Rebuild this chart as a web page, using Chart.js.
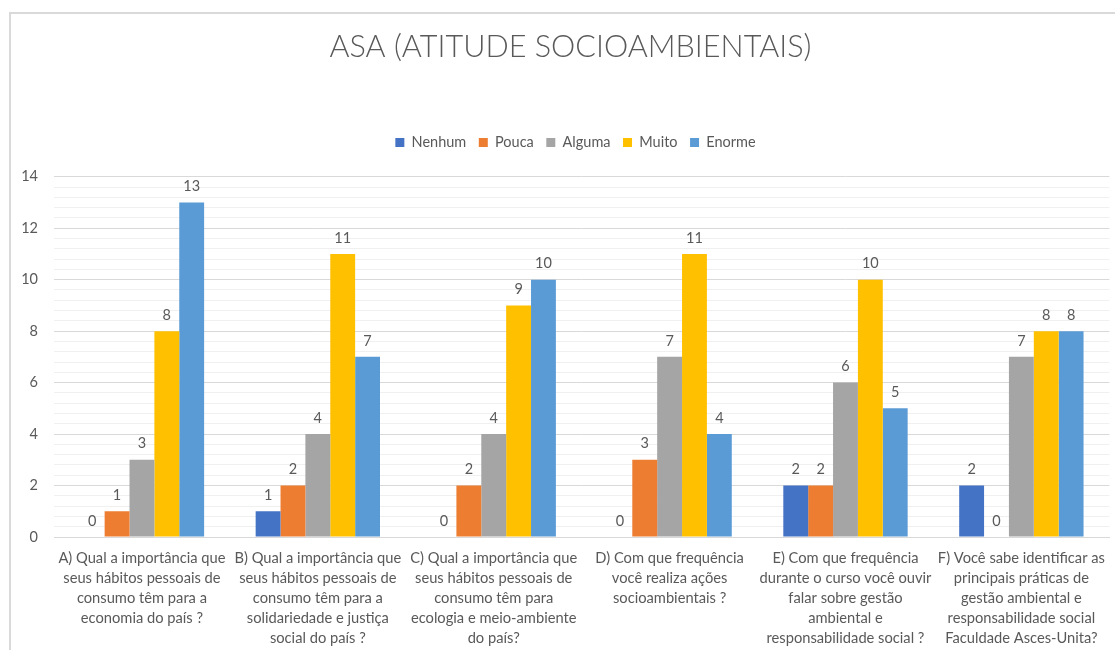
<!DOCTYPE html>
<html>
<head>
<meta charset="utf-8">
<script src="https://cdn.jsdelivr.net/npm/chart.js@4"></script>
<style>
  body { margin: 0; background: #fff; }
  canvas { display: block; }
</style>
</head>
<body>
<canvas id="asaChart" width="1116" height="650"></canvas>
<script>
var ctx = document.getElementById('asaChart');

// perguntas (eixo x), uma linha por item do array
const perguntas = [
  ['A) Qual a importância que', 'seus hábitos pessoais de', 'consumo têm para a', 'economia do país ?'],
  ['B) Qual a importância que', 'seus hábitos pessoais de', 'consumo têm para a', 'solidariedade e justiça', 'social do país ?'],
  ['C) Qual a importância que', 'seus hábitos pessoais de', 'consumo têm para', 'ecologia e meio-ambiente', 'do país?'],
  ['D) Com que frequência', 'você realiza ações', 'socioambientais ?'],
  ['E) Com que frequência', 'durante o curso você ouvir', 'falar sobre gestão', 'ambiental e', 'responsabilidade social ?'],
  ['F) Você sabe identificar as', 'principais práticas de', 'gestão ambiental e', 'responsabilidade social', 'Faculdade Asces-Unita?']
];

const nenhum = [0, 1, 0, 0, 2, 2];
const pouca  = [1, 2, 2, 3, 2, 0];
const alguma = [3, 4, 4, 7, 6, 7];
const muito  = [8, 11, 9, 11, 10, 8];
const enorme = [13, 7, 10, 4, 5, 8];

const cinza = '#595959';
const fonte = 'Lato, "Open Sans", sans-serif';

function isMajor(v) {
  return Math.abs(v / 2 - Math.round(v / 2)) < 1e-6;
}

// moldura cinza em volta do gráfico
const moldura = {
  id: 'moldura',
  beforeDraw(chart) {
    const c = chart.ctx;
    c.save();
    c.strokeStyle = '#d9d9d9';
    c.lineWidth = 2;
    c.beginPath();
    c.moveTo(10, 650);
    c.lineTo(10, 13);
    c.lineTo(1115, 13);
    c.stroke();
    c.restore();
  }
};

// legenda: mais espaço embaixo; título e legenda centralizados sobre a área de plotagem
const ajusteTopo = {
  id: 'ajusteTopo',
  afterInit(chart) {
    const fitOriginal = chart.legend.fit;
    chart.legend.fit = function () {
      fitOriginal.call(this);
      this.height += 17;
    };
  },
  afterLayout(chart) {
    chart.legend.left += 18;
    chart.legend.right += 18;
    chart.titleBlock.left += 13;
    chart.titleBlock.right += 13;
  }
};

// valores em cima das barras
const rotulos = {
  id: 'rotulos',
  afterDatasetsDraw(chart) {
    const c = chart.ctx;
    c.save();
    c.fillStyle = cinza;
    c.font = '14.5px ' + fonte;
    c.textAlign = 'center';
    c.textBaseline = 'middle';
    chart.data.datasets.forEach((ds, i) => {
      chart.getDatasetMeta(i).data.forEach((bar, j) => {
        c.fillText(ds.data[j], bar.x, bar.y - 16);
      });
    });
    c.restore();
  }
};

var grafico = new Chart(ctx, {
  type: 'bar',
  data: {
    labels: perguntas,
    datasets: [
      { label: 'Nenhum', data: nenhum, backgroundColor: '#4472C4' },
      { label: 'Pouca', data: pouca, backgroundColor: '#ED7D31' },
      { label: 'Alguma', data: alguma, backgroundColor: '#A5A5A5' },
      { label: 'Muito', data: muito, backgroundColor: '#FFC000' },
      { label: 'Enorme', data: enorme, backgroundColor: '#5B9BD5' }
    ]
  },
  options: {
    responsive: false,
    animation: false,
    categoryPercentage: 0.707,
    barPercentage: 1,
    layout: { padding: { left: 0, right: 1, top: 0, bottom: 0 } },
    plugins: {
      title: {
        display: true,
        text: 'ASA (ATITUDE SOCIOAMBIENTAIS)',
        color: cinza,
        font: { family: fonte, size: 30.6, weight: 300 },
        padding: { top: 29, bottom: 57 }
      },
      legend: {
        display: true,
        position: 'top',
        labels: {
          color: cinza,
          font: { family: fonte, size: 14.5 },
          boxWidth: 9,
          boxHeight: 9,
          padding: 12.5
        }
      },
      tooltip: { enabled: false }
    },
    scales: {
      x: {
        grid: { display: false, drawTicks: false },
        border: { color: '#d9d9d9', width: 1 },
        ticks: {
          color: cinza,
          font: { family: fonte, size: 14.7, lineHeight: 1.36 },
          padding: 11,
          maxRotation: 0,
          autoSkip: false
        },
        afterFit(scale) { scale.height = 113; }
      },
      y: {
        min: 0,
        max: 14,
        border: { display: false },
        grid: {
          color: (c) => isMajor(c.tick.value) ? '#d9d9d9' : '#f0f0f0',
          drawTicks: false
        },
        ticks: {
          stepSize: 0.4,
          maxTicksLimit: 100,
          autoSkip: false,
          color: cinza,
          font: { family: fonte, size: 14.5 },
          padding: 16,
          callback: (v) => isMajor(v) ? Math.round(v) : ''
        },
        afterFit(scale) { scale.width = 54; }
      }
    }
  },
  plugins: [moldura, ajusteTopo, rotulos]
});
</script>
</body>
</html>
